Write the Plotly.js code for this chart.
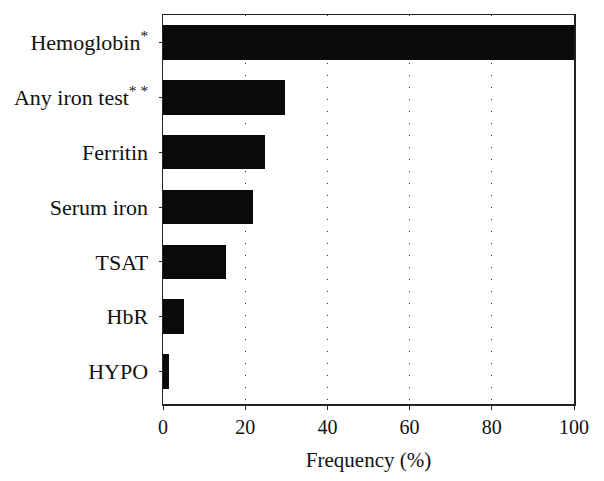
<!DOCTYPE html>
<html>
<head>
<meta charset="utf-8">
<script src="https://cdn.plot.ly/plotly-3.0.1.min.js"></script>
<style>
  html, body { margin: 0; padding: 0; background: #fff; }
  #chart { width: 604px; height: 481px; }
</style>
</head>
<body>
<div id="chart"></div>
<script>
// tests, listed bottom to top as plotly draws categories upward
const tests = ['HYPO', 'HbR', 'TSAT', 'Serum iron', 'Ferritin', 'Any iron test<sup>* *</sup>', 'Hemoglobin<sup>*</sup>'];
const freq = [1.5, 5.0, 15.3, 22.0, 24.9, 29.6, 100];
const xTicks = [0, 20, 40, 60, 80, 100];

const serif = 'Liberation Serif, Times New Roman, serif';

const bars = {
  type: 'bar',
  orientation: 'h',
  x: freq,
  y: tests,
  width: 0.63,
  marker: { color: '#0a0a0a', line: { width: 0 } },
  hoverinfo: 'skip'
};

const layout = {
  width: 604,
  height: 481,
  margin: { l: 163, r: 30, t: 15, b: 77 },
  paper_bgcolor: '#fff',
  plot_bgcolor: '#fff',
  showlegend: false,
  bargap: 0,
  font: { family: serif, size: 20, color: '#111' },
  xaxis: {
    range: [0, 100],
    tickvals: xTicks,
    ticks: 'outside',
    ticklen: 4,
    tickcolor: '#222',
    showline: true,
    linecolor: '#222',
    linewidth: 1.5,
    mirror: true,
    showgrid: true,
    gridcolor: '#333',
    gridwidth: 1,
    griddash: '1px,11px',
    zeroline: false,
    tickfont: { family: serif, size: 20, color: '#111' },
    title: { text: 'Frequency (%)', font: { family: serif, size: 21, color: '#111' }, standoff: 16 }
  },
  yaxis: {
    type: 'category',
    range: [-0.59, 6.5],
    ticks: 'outside',
    ticklen: 3,
    tickcolor: '#222',
    showline: true,
    linecolor: '#222',
    linewidth: 1.5,
    mirror: true,
    showgrid: false,
    zeroline: false,
    ticklabelstandoff: 6,
    tickfont: { family: serif, size: 22, color: '#111' }
  }
};

Plotly.newPlot('chart', [bars], layout, { displayModeBar: false, staticPlot: true });
</script>
</body>
</html>
